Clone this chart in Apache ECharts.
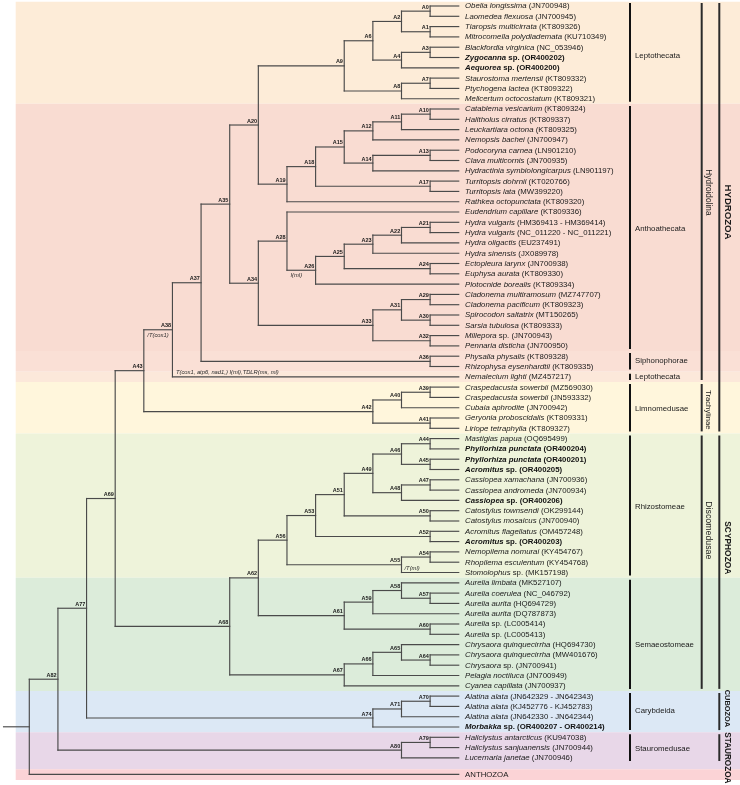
<!DOCTYPE html>
<html><head><meta charset="utf-8">
<script src="https://cdn.jsdelivr.net/npm/echarts@6/dist/echarts.min.js"></script>
<style>html,body{margin:0;padding:0;background:#fff}#c{width:740px;height:785px}</style>
</head><body><div id="c"></div>
<script>
// ---------------- DATA ----------------
const leafItalic = [
 'Obelia longissima','Laomedea flexuosa','Tiaropsis multicirrata','Mitrocomella polydiademata',
 'Blackfordia virginica','Zygocanna','Aequorea','Staurostoma mertensii','Ptychogena lactea',
 'Melicertum octocostatum','Catablema vesicarium','Halitholus cirratus','Leuckartiara octona',
 'Nemopsis bachei','Podocoryna carnea','Clava multicornis','Hydractinia symbiolongicarpus',
 'Turritopsis dohrnii','Turritopsis lata','Rathkea octopunctata','Eudendrium capillare',
 'Hydra vulgaris','Hydra vulgaris','Hydra oligactis','Hydra sinensis','Ectopleura larynx',
 'Euphysa aurata','Plotocnide borealis','Cladonema multiramosum','Cladonema pacificum',
 'Spirocodon saltatrix','Sarsia tubulosa','Millepora','Pennaria disticha','Physalia physalis',
 'Rhizophysa eysenhardtii','Nemalecium lighti','Craspedacusta sowerbii','Craspedacusta sowerbii',
 'Cubaia aphrodite','Geryonia proboscidalis','Liriope tetraphylla','Mastigias papua',
 'Phyllorhiza punctata','Phyllorhiza punctata','Acromitus','Cassiopea xamachana',
 'Cassiopea andromeda','Cassiopea','Catostylus townsendi','Catostylus mosaicus',
 'Acromitus flagellatus','Acromitus','Nemopilema nomurai','Rhopilema esculentum','Stomolophus',
 'Aurelia limbata','Aurelia coerulea','Aurelia aurita','Aurelia aurita','Aurelia','Aurelia',
 'Chrysaora quinquecirrha','Chrysaora quinquecirrha','Chrysaora','Pelagia noctiluca',
 'Cyanea capillata','Alatina alata','Alatina alata','Alatina alata','Morbakka',
 'Haliclystus antarcticus','Haliclystus sanjuanensis','Lucernaria janetae'
];
const leafPlain = [
 '(JN700948)','(JN700945)','(KT809326)','(KU710349)','(NC_053946)','sp. (OR400202)','sp. (OR400200)',
 '(KT809332)','(KT809322)','(KT809321)','(KT809324)','(KT809337)','(KT809325)','(JN700947)',
 '(LN901210)','(JN700935)','(LN901197)','(KT020766)','(MW399220)','(KT809320)','(KT809336)',
 '(HM369413 - HM369414)','(NC_011220 - NC_011221)','(EU237491)','(JX089978)','(JN700938)',
 '(KT809330)','(KT809334)','(MZ747707)','(KT809323)','(MT150265)','(KT809333)','sp. (JN700943)',
 '(JN700950)','(KT809328)','(KT809335)','(MZ457217)','(MZ569030)','(JN593332)','(JN700942)',
 '(KT809331)','(KT809327)','(OQ695499)','(OR400204)','(OR400201)','sp. (OR400205)','(JN700936)',
 '(JN700934)','sp. (OR400206)','(OK299144)','(JN700940)','(OM457248)','sp. (OR400203)',
 '(KY454767)','(KY454768)','sp. (MK157198)','(MK527107)','(NC_046792)','(HQ694729)','(DQ787873)',
 'sp. (LC005414)','sp. (LC005413)','(HQ694730)','(MW401676)','sp. (JN700941)','(JN700949)',
 '(JN700937)','(JN642329 - JN642343)','(KJ452776 - KJ452783)','(JN642330 - JN642344)',
 'sp. (OR400207 - OR400214)','(KU947038)','(JN700944)','(JN700946)'
];
const boldLeaves = [5, 6, 43, 44, 45, 48, 52, 70];
const outgroupName = 'ANTHOZOA';
const outgroupRow = 74.6;
const tipLevel = 15;

const nodeNames = ['A0','A1','A2','A3','A4','A6','A7','A8','A9','A10','A11','A12','A13','A14','A15',
 'A17','A18','A19','A20','A21','A22','A23','A24','A25','A26','A28','A29','A30','A31','A32','A33',
 'A34','A35','A36','A37','A38','A39','A40','A41','A42','A43','A44','A45','A46','A47','A48','A49',
 'A50','A51','A52','A53','A54','A55','A56','A57','A58','A59','A60','A61','A62','A64','A65','A66',
 'A67','A68','A69','A70','A71','A74','A77','A79','A80','A82','root'];
const nodeLevels = [14,14,13,14,13,12,14,13,11,14,13,12,14,12,11,
 14,10,9,8,14,13,12,14,11,10,9,14,14,13,14,12,
 8,7,14,6,5,14,13,14,12,4,14,14,13,14,13,12,
 14,11,14,10,14,13,9,14,13,12,14,11,8,14,13,12,
 11,7,3,14,13,12,2,14,13,1,0];
const nodeChildren = [[0,1],[2,3],['A0','A1'],[4,5],['A3',6],['A2','A4'],[7,8],['A7',9],['A6','A8'],
 [10,11],['A10',12],['A11',13],[14,15],['A13',16],['A12','A14'],[17,18],['A15','A17'],['A18',19],
 ['A9','A19'],[21,22],['A21',23],['A22',24],[25,26],['A23','A24'],['A25',27],[20,'A26'],[28,29],
 [30,31],['A29','A30'],[32,33],['A31','A32'],['A28','A33'],['A20','A34'],[34,35],['A35','A36'],
 ['A37',36],[37,38],['A39',39],[40,41],['A40','A41'],['A38','A42'],[42,43],[44,45],['A44','A45'],
 [46,47],['A47',48],['A46','A48'],[49,50],['A49','A50'],[51,52],['A51','A52'],[53,54],['A54',55],
 ['A53','A55'],[57,58],[56,'A57'],['A58',59],[60,61],['A59','A60'],['A56','A61'],[63,64],[62,'A64'],
 ['A65',65],['A66',66],['A62','A67'],['A43','A68'],[67,68],['A70',69],['A71',70],['A69','A74'],
 [71,72],['A79',73],['A77','A80'],['A82','OUT']];

// annotations on branches: text, child the branch leads to, side of the branch
const annText = ['I(ml)', '/T(cox1)', 'T(cox1, atp6, nad1,) I(ml),TDLR(ms, ml)', '/T(ml)'];
const annTarget = ['A26', 'A38', 36, 55];
const annSide = ['below', 'below', 'above', 'aboveTip'];

// shaded bands (row ranges)
const bandStart = [-0.42, 9.5, 33.5, 35.5, 36.5, 41.5, 55.5, 66.5, 70.5, 74.1];
const bandEnd   = [9.5, 33.5, 35.5, 36.5, 41.5, 55.5, 66.5, 70.5, 74.1, 75.15];

// clade brackets: name, first leaf row, last leaf row, label row, column
const cladeNames = ['Leptothecata','Anthoathecata','Siphonophorae','Leptothecata','Limnomedusae',
 'Rhizostomeae','Semaeostomeae','Carybdeida','Stauromedusae',
 'Hydroidolina','Trachylinae','Discomedusae',
 'HYDROZOA','SCYPHOZOA','CUBOZOA','STAUROZOA'];
const cladeFirst = [0,10,34,36,37,42,56,67,71, 0,37,42, 0,42,67,71];
const cladeLast  = [9,33,35,36,41,55,66,70,73, 36,41,66, 41,66,70,73];
const cladeLabelRow = [4.8,21.6,34.5,36.05,39.1,48.6,62.0,68.4,72.1, 18.1,39.2,50.9, 20.0,52.6,68.2,73.0];
const cladeColumn = [0,0,0,0,0,0,0,0,0, 1,1,1, 2,2,2,2];

// ---------------- STYLE ----------------
const FONT = '"Liberation Sans", Arial, sans-serif';
const bandColors = ['#FDECD8','#F9DCD2','#FAE0D6','#FCE8DA','#FFF6DC','#EEF3DA','#DCECDA','#DCE8F5','#E8D7E8','#FBD3D6'];
const colLineX = [630, 701.7, 719.3];
const colTextX = [635, 708.5, 727.5];
const cladeFontSize = [7.8,7.8,7.8,7.8,7.8,7.8,7.8,7.8,7.8, 8.3,7.7,8.8, 9.6,8.4,7.4,8.2];

// ---------------- BUILD TREE ----------------
const nodeIndex = {};
nodeNames.forEach((n, i) => nodeIndex[n] = i);
const nodeRow = new Array(nodeNames.length);
function rowOf(c) { if (c === 'OUT') return outgroupRow; if (typeof c === 'number') return c; return nodeRow[nodeIndex[c]]; }
function levelOf(c) { if (c === 'OUT' || typeof c === 'number') return tipLevel; return nodeLevels[nodeIndex[c]]; }
nodeNames.forEach((n, i) => {
  const ch = nodeChildren[i];
  nodeRow[i] = (rowOf(ch[0]) + rowOf(ch[ch.length - 1])) / 2;
});
const segs = [];
nodeNames.forEach((n, i) => {
  const lv = nodeLevels[i], ch = nodeChildren[i];
  segs.push([lv, rowOf(ch[0]), lv, rowOf(ch[ch.length - 1])]);
  ch.forEach(c => segs.push([lv, rowOf(c), levelOf(c), rowOf(c)]));
});
const rootI = nodeIndex['root'];
segs.push([-0.9, nodeRow[rootI], 0, nodeRow[rootI]]);

const nodeLabelData = nodeNames.map((n, i) => [nodeLevels[i], nodeRow[i], n]).filter(d => d[2] !== 'root');
const leafData = leafItalic.map((t, i) => [tipLevel, i, i]);
leafData.push([tipLevel, outgroupRow, -1]);
const bandData = bandStart.map((s, i) => [0, s, bandEnd[i], i]);
const cladeData = cladeNames.map((n, i) => [0, cladeFirst[i], cladeLast[i], cladeLabelRow[i], i]);
const annData = annText.map((t, i) => {
  const c = annTarget[i];
  let parentLevel = 0;
  nodeNames.forEach((n, k) => { if (nodeChildren[k].indexOf(c) >= 0) parentLevel = nodeLevels[k]; });
  return [parentLevel, rowOf(c), i];
});

// ---------------- CHART ----------------
const chart = echarts.init(document.getElementById('c'), null, {renderer: 'canvas'});
const rich = {
  i:  {fontStyle: 'italic', fontSize: 7.8, fontFamily: FONT, fill: '#1a1a1a'},
  n:  {fontSize: 7.8, fontFamily: FONT, fill: '#1a1a1a'},
  bi: {fontStyle: 'italic', fontWeight: 'bold', fontSize: 7.8, fontFamily: FONT, fill: '#111'},
  bn: {fontWeight: 'bold', fontSize: 7.8, fontFamily: FONT, fill: '#111'}
};
chart.setOption({
  animation: false,
  grid: {left: 29.3, top: 6, width: 429.45, height: 772.5},
  xAxis: {type: 'value', min: 0, max: 15, show: false},
  yAxis: {type: 'value', min: 0, max: 75, inverse: true, show: false},
  series: [
    { // bands
      type: 'custom', clip: false, silent: true, z: 1,
      encode: {x: 0, y: [1, 2]},
      data: bandData,
      renderItem(params, api) {
        const y1 = api.coord([0, api.value(1)])[1];
        const y2 = api.coord([0, api.value(2)])[1];
        return {type: 'rect', shape: {x: 15.7, y: y1, width: 740 - 15.7, height: y2 - y1},
          style: {fill: bandColors[api.value(3)]}};
      }
    },
    { // branches
      type: 'custom', clip: false, silent: true, z: 3,
      encode: {x: [0, 2], y: [1, 3]},
      data: segs,
      renderItem(params, api) {
        const p1 = api.coord([api.value(0), api.value(1)]);
        const p2 = api.coord([api.value(2), api.value(3)]);
        return {type: 'line', shape: {x1: p1[0], y1: p1[1], x2: p2[0], y2: p2[1]},
          style: {stroke: '#4a4a4a', lineWidth: 1.15, lineCap: 'square'}};
      }
    },
    { // node labels
      type: 'custom', clip: false, silent: true, z: 4,
      encode: {x: 0, y: 1},
      data: nodeLabelData,
      renderItem(params, api) {
        const p = api.coord([api.value(0), api.value(1)]);
        return {type: 'text', x: p[0] - 1.3, y: p[1] - 4,
          style: {text: nodeLabelData[params.dataIndex][2], font: 'bold 5.5px ' + FONT, fill: '#1a1a1a',
            textAlign: 'right', textVerticalAlign: 'middle'}};
      }
    },
    { // leaf labels
      type: 'custom', clip: false, silent: true, z: 4,
      encode: {x: 0, y: 1},
      data: leafData,
      renderItem(params, api) {
        const p = api.coord([api.value(0), api.value(1)]);
        const k = api.value(2);
        let text;
        if (k < 0) text = '{n|' + outgroupName + '}';
        else if (boldLeaves.indexOf(k) >= 0) text = '{bi|' + leafItalic[k] + '}{bn| ' + leafPlain[k] + '}';
        else text = '{i|' + leafItalic[k] + '}{n| ' + leafPlain[k] + '}';
        return {type: 'text', x: p[0] + 6.3, y: p[1] + 0.3,
          style: {text: text, rich: rich, textAlign: 'left', textVerticalAlign: 'middle', fontSize: 7.8, fontFamily: FONT}};
      }
    },
    { // annotations
      type: 'custom', clip: false, silent: true, z: 4,
      encode: {x: 0, y: 1},
      data: annData,
      renderItem(params, api) {
        const p = api.coord([api.value(0), api.value(1)]);
        const k = api.value(2);
        const side = annSide[k];
        const dy = side === 'below' ? 5.5 : -4.6;
        const dx = side === 'aboveTip' ? 3 : 3.5;
        return {type: 'text', x: p[0] + dx, y: p[1] + dy,
          style: {text: annText[k], font: 'italic 5.8px ' + FONT, fill: '#2a2a2a',
            textAlign: 'left', textVerticalAlign: 'middle'}};
      }
    },
    { // clade brackets and labels
      type: 'custom', clip: false, silent: true, z: 4,
      encode: {x: 0, y: [1, 2]},
      data: cladeData,
      renderItem(params, api) {
        const k = api.value(4);
        const col = cladeColumn[k];
        const y1 = api.coord([0, api.value(1) - 0.3])[1];
        const y2 = api.coord([0, api.value(2) + 0.3])[1];
        const ly = api.coord([0, api.value(3)])[1];
        const fs = cladeFontSize[k];
        const children = [{type: 'line', shape: {x1: colLineX[col], y1: y1, x2: colLineX[col], y2: y2},
          style: {stroke: col === 0 ? '#111' : '#2b2b2b', lineWidth: 2}}];
        if (col === 0) {
          children.push({type: 'text', x: colTextX[col], y: ly,
            style: {text: cladeNames[k], font: fs + 'px ' + FONT, fill: '#1a1a1a', textAlign: 'left', textVerticalAlign: 'middle'}});
        } else {
          children.push({type: 'text', x: colTextX[col], y: ly, rotation: -Math.PI / 2,
            style: {text: cladeNames[k], font: (col === 2 ? 'bold ' : '') + fs + 'px ' + FONT, fill: '#1a1a1a',
              textAlign: 'center', textVerticalAlign: 'middle'}});
        }
        return {type: 'group', children: children};
      }
    }
  ]
});
</script></body></html>
